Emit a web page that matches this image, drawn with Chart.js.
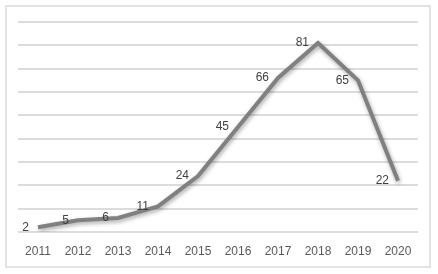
<!DOCTYPE html>
<html>
<head>
<meta charset="utf-8">
<script src="https://cdn.jsdelivr.net/npm/chart.js@4"></script>
<style>
  html, body { margin: 0; padding: 0; background: #fff; }
  #frame { position: absolute; left: 5px; top: 5px; width: 426px; height: 263px; box-sizing: border-box; border: 2px solid #e3e3e3; }
  #wrap { position: absolute; left: 0; top: 0; width: 438px; height: 274px; }
</style>
</head>
<body>
<div id="frame"></div>
<div id="wrap"><canvas id="c" width="438" height="274"></canvas></div>
<script>
const categories = ['2011','2012','2013','2014','2015','2016','2017','2018','2019','2020'];
const values = [2, 5, 6, 11, 24, 45, 66, 81, 65, 22];
const yMin = 0, yMax = 90, yStep = 10;

const FONT = '"Liberation Sans Narrow", "Liberation Sans", Arial, sans-serif';

const shadowPlugin = {
  id: 'lineShadow',
  beforeDatasetDraw(chart) {
    const ctx = chart.ctx;
    ctx.save();
    ctx.shadowColor = 'rgba(0,0,0,0.35)';
    ctx.shadowBlur = 4;
    ctx.shadowOffsetX = 1;
    ctx.shadowOffsetY = 2;
  },
  afterDatasetDraw(chart) {
    chart.ctx.restore();
  }
};

const labelPlugin = {
  id: 'valueLabels',
  afterDatasetsDraw(chart) {
    const ctx = chart.ctx;
    const meta = chart.getDatasetMeta(0);
    ctx.save();
    ctx.font = '12px ' + FONT;
    ctx.fillStyle = '#404040';
    ctx.textAlign = 'right';
    ctx.textBaseline = 'middle';
    meta.data.forEach((pt, i) => {
      ctx.fillText(String(values[i]), pt.x - 9, pt.y);
    });
    ctx.restore();
  }
};

new Chart(document.getElementById('c'), {
  type: 'line',
  data: {
    labels: categories,
    datasets: [{
      data: values,
      borderColor: '#808080',
      borderWidth: 4,
      pointRadius: 0,
      pointHoverRadius: 0,
      tension: 0,
      fill: false,
      borderCapStyle: 'butt',
      borderJoinStyle: 'miter'
    }]
  },
  options: {
    responsive: false,
    animation: false,
    events: [],
    layout: { padding: { left: 18, right: 20, top: 22, bottom: 6 } },
    plugins: { legend: { display: false }, tooltip: { enabled: false } },
    scales: {
      x: {
        offset: true,
        grid: { display: false },
        border: { display: false },
        ticks: { color: '#595959', font: { family: FONT, size: 12 }, padding: 4, maxRotation: 0 },
        afterFit(s) { s.height = 36; }
      },
      y: {
        min: yMin, max: yMax,
        ticks: { display: false, stepSize: yStep },
        grid: { color: '#dcdcdc', lineWidth: 2, drawTicks: false },
        border: { display: false },
        afterFit(s) { s.width = 0; }
      }
    }
  },
  plugins: [shadowPlugin, labelPlugin]
});
</script>
</body>
</html>
